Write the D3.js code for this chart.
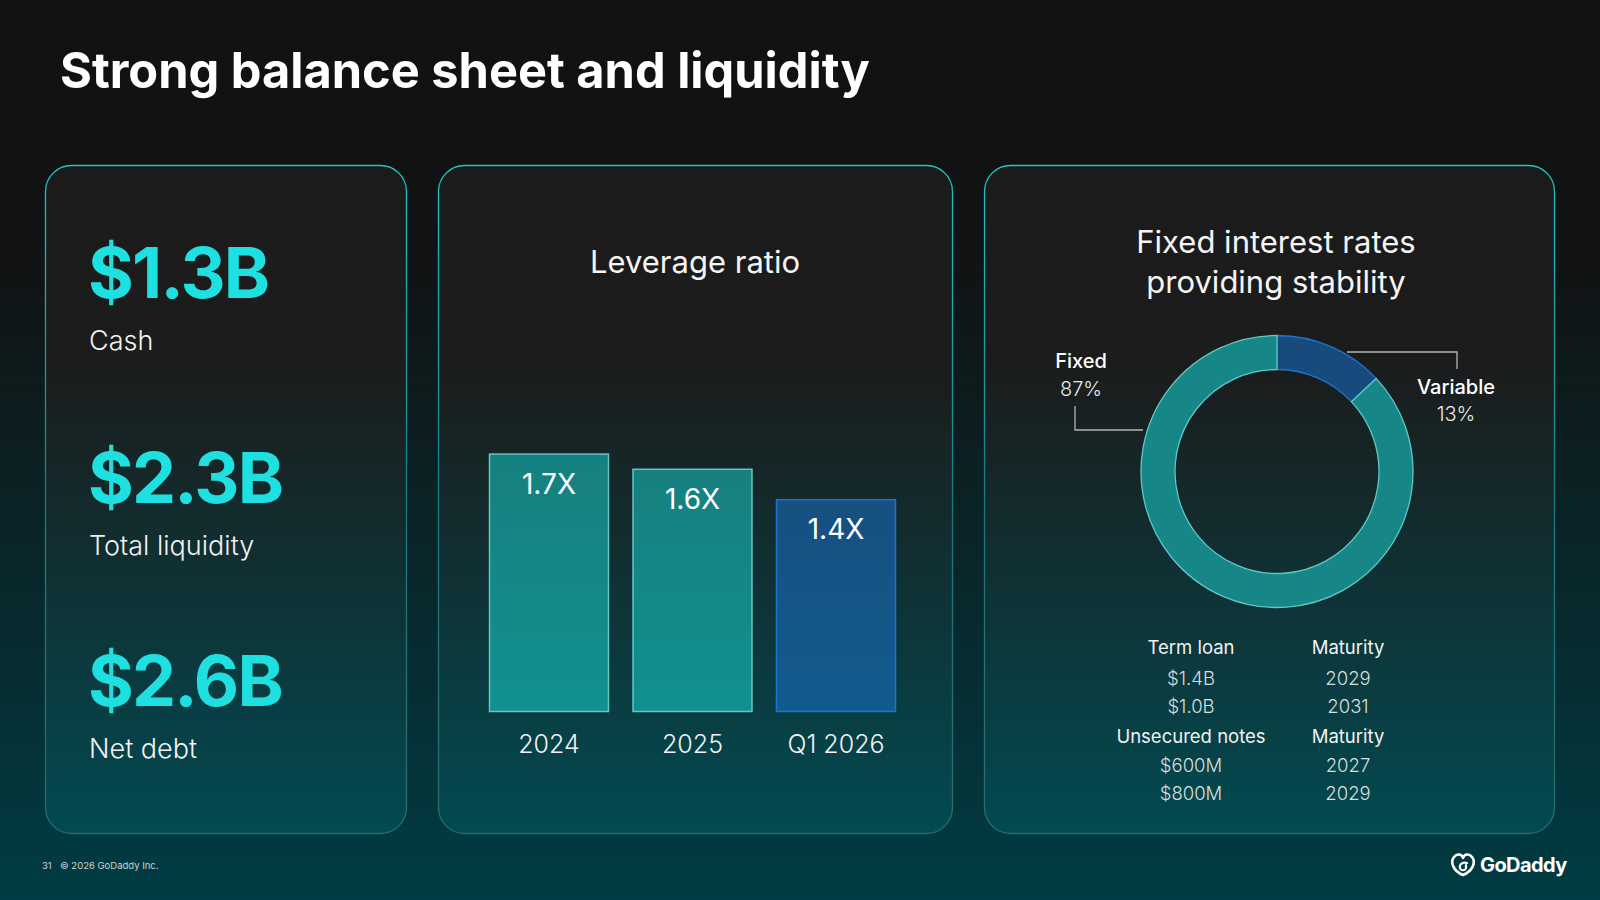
<!DOCTYPE html>
<html><head><meta charset="utf-8">
<script src="https://cdn.jsdelivr.net/npm/d3@7"></script>
<style>
html,body{margin:0;padding:0;background:#111;}
svg{display:block;}
text{font-family:Inter,"Noto Sans",sans-serif;}
</style></head>
<body>
<svg id="c" width="1600" height="900"></svg>
<script>
// ---- data ----
const title = "Strong balance sheet and liquidity";
const kpiValues = ["$1.3B", "$2.3B", "$2.6B"];
const kpiLabels = ["Cash", "Total liquidity", "Net debt"];
const leverageTitle = "Leverage ratio";
const leverageYears = ["2024", "2025", "Q1 2026"];
const leverageValues = [1.7, 1.6, 1.4];
const leverageLabels = ["1.7X", "1.6X", "1.4X"];
const rateTitle = ["Fixed interest rates", "providing stability"];
const rateTypes = ["Variable", "Fixed"];
const rateShares = [13, 87];
const debtHeaders1 = ["Term loan", "Maturity"];
const termLoanAmounts = ["$1.4B", "$1.0B"];
const termLoanMaturity = ["2029", "2031"];
const debtHeaders2 = ["Unsecured notes", "Maturity"];
const notesAmounts = ["$600M", "$800M"];
const notesMaturity = ["2027", "2029"];
const footer = ["31", "© 2026 GoDaddy Inc."];

// ---- drawing ----
const svg = d3.select("#c");
const defs = svg.append("defs");
function lin(id, stops){
  const g = defs.append("linearGradient").attr("id", id).attr("x1",0).attr("y1",0).attr("x2",0).attr("y2",1);
  stops.forEach(s => g.append("stop").attr("offset", s[0]).attr("stop-color", s[1]));
}
lin("bg", [[0,"#111111"],[0.3,"#111314"],[1,"#003c43"]]);
lin("panel", [[0,"#1b1b1b"],[0.3,"#1b1c1c"],[1,"#024a51"]]);
lin("pstroke", [[0,"#1fc6c8"],[0.5,"#1a7b80"],[1,"#2c6a6e"]]);
lin("teal", [[0,"#16807f"],[1,"#119090"]]);
lin("blue", [[0,"#174f80"],[1,"#115b8e"]]);

svg.append("rect").attr("width",1600).attr("height",900).attr("fill","url(#bg)");

const tt = svg.append("text").attr("x",60).attr("y",88).attr("fill","#fff")
  .attr("font-family","Lato,sans-serif").attr("font-size",56).attr("font-weight",700).text(title);
// fit title to the reference width
const tw = tt.node().getComputedTextLength();
tt.attr("font-size", 56 * 810 / tw);

const panels = [[45,165,361,668],[438,165,514,668],[984,165,570,668]];
svg.selectAll("rect.panel").data(panels).join("rect").attr("class","panel")
  .attr("x",d=>d[0]+0.5).attr("y",d=>d[1]+0.5).attr("width",d=>d[2]).attr("height",d=>d[3])
  .attr("rx",26).attr("fill","url(#panel)").attr("stroke","url(#pstroke)").attr("stroke-width",1.3);

// KPI panel
const kpiY = [298, 503, 706];
kpiValues.forEach((v,i)=>{
  svg.append("text").attr("x",88).attr("y",kpiY[i]).attr("fill","#1ee0e0")
    .attr("font-size",70).attr("font-weight",700).attr("letter-spacing",-1.8).text(v);
  svg.append("text").attr("x",89).attr("y",kpiY[i]+52).attr("fill","#f2f2f2")
    .attr("font-size",27).attr("font-weight",300).text(kpiLabels[i]);
});

// Leverage bars
svg.append("text").attr("x",695).attr("y",273).attr("text-anchor","middle").attr("fill","#f5f5f5")
  .attr("font-size",31).attr("font-weight",400).text(leverageTitle);
const x = d3.scaleBand().domain(leverageYears).range([477.25, 907.75]).paddingInner(0.164).paddingOuter(0.082);
const y = d3.scaleLinear().domain([0, 2]).range([712, 408]);
const bars = svg.append("g");
bars.selectAll("rect").data(leverageValues).join("rect")
  .attr("x",(d,i)=>x(leverageYears[i])+0.5).attr("y",d=>y(d)+0.5)
  .attr("width",x.bandwidth()-1).attr("height",d=>y(0)-y(d)-1)
  .attr("fill",(d,i)=>i===2?"url(#blue)":"url(#teal)")
  .attr("stroke",(d,i)=>i===2?"#1c74d2":"#62c6c4").attr("stroke-width",1.5);
bars.selectAll("text.v").data(leverageValues).join("text").attr("class","v")
  .attr("x",(d,i)=>x(leverageYears[i])+x.bandwidth()/2).attr("y",d=>y(d)+40)
  .attr("text-anchor","middle").attr("fill","#fff").attr("font-size",28).attr("font-weight",400)
  .text((d,i)=>leverageLabels[i]);
const xAxis = svg.append("g").attr("transform","translate(0,712)")
  .call(d3.axisBottom(x).tickSize(0).tickPadding(30));
xAxis.select(".domain").remove();
xAxis.selectAll("text").attr("fill","#f2f2f2").attr("font-size",25).attr("font-weight",300)
  .attr("font-family","Inter,sans-serif").attr("dy",0).attr("y",41);

// Donut
rateTitle.forEach((t,i)=>{
  svg.append("text").attr("x",1276).attr("y",253+i*40).attr("text-anchor","middle").attr("fill","#f5f5f5")
    .attr("font-size",31).attr("font-weight",400).text(t);
});
const cx = 1277, cy = 471.5;
const pie = d3.pie().sort(null).value(d=>d);
const arc = d3.arc().innerRadius(102).outerRadius(136);
const dg = svg.append("g").attr("transform",`translate(${cx},${cy})`);
dg.selectAll("path").data(pie(rateShares)).join("path").attr("d",arc)
  .attr("fill",(d,i)=>i===0?"#184a7c":"#178686")
  .attr("stroke",(d,i)=>i===0?"#1c74d2":"#5fc9c7").attr("stroke-width",1.3);
// leader lines
const lineCol = "#b5b5b5";
svg.append("polyline").attr("points",`${cx-134},430 1075,430 1075,406`).attr("fill","none").attr("stroke",lineCol).attr("stroke-width",1.3);
svg.append("polyline").attr("points",`1347,352 1457,352 1457,369`).attr("fill","none").attr("stroke",lineCol).attr("stroke-width",1.3);
svg.append("text").attr("x",1081).attr("y",368).attr("text-anchor","middle").attr("fill","#fff").attr("font-size",20).attr("font-weight",500).text(rateTypes[1]);
svg.append("text").attr("x",1081).attr("y",396).attr("text-anchor","middle").attr("fill","#e8e8e8").attr("font-size",20).attr("font-weight",300).text(rateShares[1]+"%");
svg.append("text").attr("x",1456).attr("y",394).attr("text-anchor","middle").attr("fill","#fff").attr("font-size",20).attr("font-weight",500).text(rateTypes[0]);
svg.append("text").attr("x",1456).attr("y",421).attr("text-anchor","middle").attr("fill","#e8e8e8").attr("font-size",20).attr("font-weight",300).text(rateShares[0]+"%");

// Debt table
const c1 = 1191, c2 = 1348;
function hdr(arr, yy){
  svg.append("text").attr("x",c1).attr("y",yy).attr("text-anchor","middle").attr("fill","#f2f2f2").attr("font-size",18.5).attr("font-weight",400).text(arr[0]);
  svg.append("text").attr("x",c2).attr("y",yy).attr("text-anchor","middle").attr("fill","#f2f2f2").attr("font-size",18.5).attr("font-weight",400).text(arr[1]);
}
function rows(a, b, yy){
  a.forEach((t,i)=>{
    svg.append("text").attr("x",c1).attr("y",yy+i*27.5).attr("text-anchor","middle").attr("fill","#d8dede").attr("font-size",18.5).attr("font-weight",300).text(t);
    svg.append("text").attr("x",c2).attr("y",yy+i*27.5).attr("text-anchor","middle").attr("fill","#d8dede").attr("font-size",18.5).attr("font-weight",300).text(b[i]);
  });
}
hdr(debtHeaders1, 654);
rows(termLoanAmounts, termLoanMaturity, 685);
hdr(debtHeaders2, 743);
rows(notesAmounts, notesMaturity, 772);

// Footer
svg.append("text").attr("x",42).attr("y",869).attr("fill","#c9d3d4").attr("font-size",9.5).text(footer[0]);
svg.append("text").attr("x",60).attr("y",869).attr("fill","#c9d3d4").attr("font-size",9.5).text(footer[1]);
// logo
const lg = svg.append("g").attr("transform","translate(1451,854)");
lg.append("path").attr("d","M12 21 C2 17 -1 8 3 3 C6 -1 11 0 12 4 C13 0 18 -1 21 3 C25 8 22 17 12 21 Z")
  .attr("fill","none").attr("stroke","#fff").attr("stroke-width",2.6).attr("stroke-linejoin","round");
lg.append("path").attr("d","M16 9 C12 8 8 10 9 14 C10 17 14 17 15 14 L15 11")
  .attr("fill","none").attr("stroke","#fff").attr("stroke-width",2.2).attr("stroke-linecap","round");
lg.append("text").attr("x",29).attr("y",18).attr("fill","#fff").attr("font-size",20).attr("font-weight",700).attr("letter-spacing",-0.6).text("GoDaddy");
</script>
</body></html>
